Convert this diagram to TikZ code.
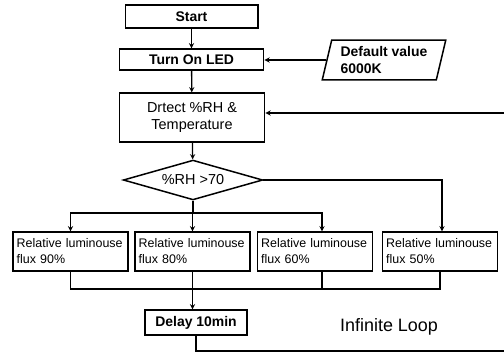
\documentclass[tikz,border=0pt]{standalone}
\usepackage{fontspec}
\setmainfont{Liberation Sans}
\usetikzlibrary{shapes.geometric}
\begin{document}
\begin{tikzpicture}[
    x=1bp,
    y=-1bp,
    every node/.style={font=\fontsize{12.5}{16}\selectfont},
    process/.style={draw, line width=1.5bp, align=center, inner sep=1bp},
    heading/.style={font=\bfseries\fontsize{14}{17}\selectfont},
    plain/.style={font=\fontsize{14.5}{17}\selectfont},
    fluxbox/.style={process, align=left, text width=108, inner xsep=3.5, minimum height=39, font=\fontsize{12.5}{16}\selectfont},
    inputbox/.style={draw, line width=1.5bp, trapezium, trapezium left angle=72, trapezium right angle=108, trapezium stretches body, align=left, inner sep=1bp, minimum width=124, minimum height=40},
    decision/.style={draw, line width=1.5bp, diamond, aspect=3.5, inner sep=0pt, minimum width=140, minimum height=40},
    conn/.style={line width=1.3bp},
    >=stealth
]
    \useasboundingbox (0,0) rectangle (504,354);
    \clip (0,0) rectangle (504,354);

    \node[process, heading, minimum width=133, minimum height=23] (start) at (191.5,16.5) {Start};
    \node[process, heading, minimum width=145, minimum height=21] (led) at (191.5,59.5) {Turn On LED};
    \node[inputbox, heading] (default) at (384,60) {Default value\\6000K};
    \node[process, plain, minimum width=146, minimum height=49] (detect) at (192,117.5) {Drtect \%RH \&\\Temperature};
    \node[decision, plain] (rh) at (193,180) {\%RH >70};

    \node[fluxbox] (f90) at (70.5,251.5) {Relative luminouse\\flux 90\%};
    \node[fluxbox] (f80) at (192.5,251.5) {Relative luminouse\\flux 80\%};
    \node[fluxbox] (f60) at (315,251.5) {Relative luminouse\\flux 60\%};
    \node[fluxbox] (f50) at (440,251.5) {Relative luminouse\\flux 50\%};

    \node[process, heading, minimum width=102, minimum height=25] (delay) at (196,322.5) {Delay 10min};
    \node[font=\fontsize{18}{20}\selectfont] (loop) at (389,327) {Infinite Loop};

    \coordinate (split) at (193,213);
    \coordinate (merge) at (193,289);
    \coordinate (loopend) at (520,351);
    \coordinate (back) at (520,113);

    \draw[->, conn] (start) -- (led);
    \draw[->, conn] (default.west) -- (default.west -| led.east);
    \draw[->, conn] (led) -- (detect);
    \draw[->, conn] (detect) -- (rh);

    \draw[conn] (rh.south) -- (split);
    \draw[->, conn] (split) -| (f90.north);
    \draw[->, conn] (split) -- (split -| f80.north) -- (f80.north);
    \draw[->, conn] (split) -| ([xshift=7]f60.north);
    \draw[->, conn] (rh.east) -| ([xshift=2]f50.north);

    \draw[conn] (f90.south) |- (merge -| f50.south) -- (f50.south);
    \draw[conn] ([xshift=7]f60.south) -- ([xshift=7]f60.south |- merge);
    \draw[->, conn] (f80.south) -- (f80.south |- delay.north);

    \draw[conn] (delay.south) |- (loopend) -- (back);
    \draw[->, conn] (back) -- (back -| detect.east);
\end{tikzpicture}
\end{document}
